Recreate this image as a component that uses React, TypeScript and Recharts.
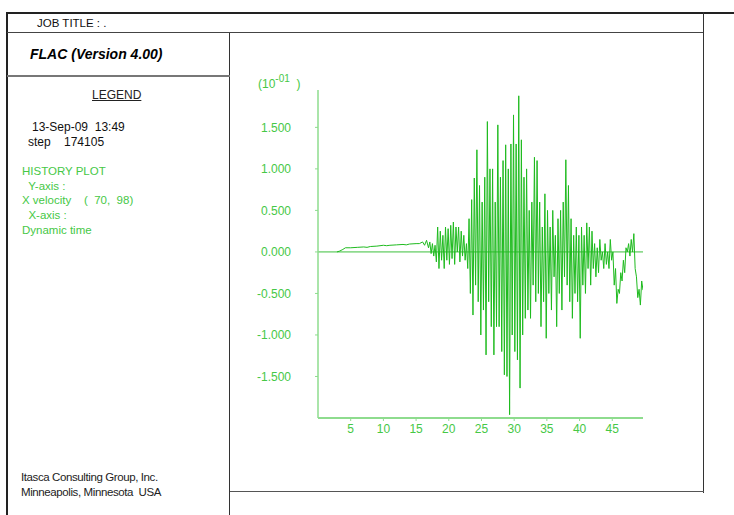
import React from 'react';
import { LineChart, Line, XAxis, YAxis, ReferenceLine } from 'recharts';

// Dynamic time (s) and X velocity (x 10^-01) history points
const historyTime: number[] = [
  2.9, 3.3, 3.8, 4.2, 5.0, 6.0, 7.0, 7.5, 8.0, 9.0, 10.0, 10.5, 11.0, 12.0, 13.0, 13.5, 14.0, 15.0, 15.5, 16.0,
  16.3, 16.6, 16.9, 17.1, 17.3, 17.5, 17.7, 17.9, 18.1, 18.3, 18.5, 18.7, 18.9, 19.1, 19.3, 19.5, 19.7, 19.9, 20.1, 20.3,
  20.5, 20.7, 20.9, 21.1, 21.3, 21.5, 21.7, 21.9, 22.1, 22.3, 22.5, 22.7, 22.9, 23.1, 23.3, 23.5, 23.7, 23.9, 24.1, 24.3,
  24.5, 24.7, 24.9, 25.1, 25.3, 25.5, 25.7, 25.9, 26.1, 26.3, 26.5, 26.7, 26.9, 27.1, 27.3, 27.5, 27.7, 27.9, 28.1, 28.3,
  28.5, 28.7, 28.9, 29.1, 29.3, 29.5, 29.7, 29.9, 30.1, 30.3, 30.5, 30.7, 30.9, 31.1, 31.3, 31.5, 31.7, 31.9, 32.1, 32.3,
  32.5, 32.7, 32.9, 33.1, 33.3, 33.5, 33.7, 33.9, 34.1, 34.3, 34.5, 34.7, 34.9, 35.1, 35.3, 35.5, 35.7, 35.9, 36.1, 36.3,
  36.5, 36.7, 36.9, 37.1, 37.3, 37.5, 37.7, 37.9, 38.1, 38.3, 38.5, 38.7, 38.9, 39.1, 39.3, 39.5, 39.7, 39.9, 40.1, 40.3,
  40.5, 40.7, 40.9, 41.1, 41.3, 41.5, 41.7, 41.9, 42.1, 42.3, 42.5, 42.7, 42.9, 43.1, 43.3, 43.5, 43.7, 43.9, 44.1, 44.3,
  44.5, 44.7, 44.9, 45.1, 45.3, 45.5, 45.7, 45.9, 46.1, 46.3, 46.5, 46.7, 46.9, 47.1, 47.3, 47.5, 47.7, 47.9, 48.1, 48.3,
  48.5, 48.7, 48.9, 49.1, 49.3, 49.5, 49.7,
];

const xVelocity: number[] = [
  0.0, 0.01, 0.03, 0.05, 0.05, 0.055, 0.06, 0.055, 0.065, 0.07, 0.08, 0.075, 0.08, 0.085, 0.09, 0.085, 0.095, 0.1, 0.1, 0.12,
  0.08, 0.14, 0.05, 0.12, -0.02, 0.1, -0.05, 0.08, -0.12, 0.3, -0.2, 0.25, -0.1, 0.2, -0.2, 0.3, -0.1, 0.28, -0.15, 0.32,
  -0.08, 0.36, -0.15, 0.3, 0.0, 0.3, -0.12, 0.25, -0.05, 0.2, -0.1, 0.1, -0.2, 0.4, -0.5, 0.63, -0.76, 0.89, -0.4, 1.23,
  -0.6, 0.8, -1.0, 0.6, -0.7, 0.9, -1.24, 1.57, -0.6, 1.0, -0.9, 1.0, -1.24, 0.6, -0.9, 1.53, -0.9, 0.9, -1.2, 1.1,
  -1.48, 1.29, -1.5, 1.0, -1.96, 1.3, -1.0, 1.65, -1.2, 1.3, -1.3, 1.88, -1.64, 1.35, -1.0, 0.9, -0.8, 1.0, -0.7, 0.5,
  -0.8, 0.6, -0.4, 1.14, -0.6, 1.1, -0.5, 0.6, -0.9, 0.3, -0.6, 0.7, -1.04, 0.5, -0.5, 0.3, -0.7, 0.5, -0.3, 0.2,
  -0.9, 0.4, -0.5, 0.5, -0.7, 0.6, -0.3, 1.11, -0.4, 0.8, -0.6, 0.4, -0.8, 0.2, -0.5, 0.3, -0.6, 0.2, -1.04, 0.3,
  -0.4, 0.2, -0.5, 0.35, -0.2, 0.3, -0.4, 0.25, -0.2, 0.1, -0.3, 0.05, -0.25, 0.15, -0.1, 0.0, -0.2, 0.1, -0.15, 0.0,
  -0.2, 0.15, -0.1, 0.0, -0.4, -0.2, -0.62, -0.45, -0.5, -0.25, -0.35, -0.1, -0.25, 0.05, 0.0, 0.1, -0.05, 0.15, 0.0, 0.22,
  -0.2, -0.3, -0.55, -0.45, -0.64, -0.35, -0.46,
];

const xTicks: number[] = [5, 10, 15, 20, 25, 30, 35, 40, 45];
const yTicks: number[] = [-1.5, -1.0, -0.5, 0, 0.5, 1.0, 1.5];

const legendLines: string[] = ['HISTORY PLOT', '  Y-axis :', 'X velocity    (  70,  98)', '  X-axis :', 'Dynamic time'];

const data = historyTime.map((t, i) => ({ t, v: xVelocity[i] }));

const GREEN_TEXT = '#46c846';
const AXIS_GREEN = '#8edc8e';
const FONT = '"Liberation Sans", Arial, Helvetica, sans-serif';

const abs = (left: number, top: number, extra: React.CSSProperties = {}): React.CSSProperties => ({
  position: 'absolute',
  left,
  top,
  ...extra,
});

export default function App() {
  return (
    <div
      style={{
        position: 'absolute',
        left: 0,
        top: 0,
        width: 734,
        height: 515,
        background: '#fff',
        fontFamily: FONT,
        overflow: 'hidden',
      }}
    >
      {/* frame */}
      <div style={abs(7, 12, { width: 727, height: 2, background: '#222' })} />
      <div style={abs(6, 12, { width: 2, height: 503, background: '#222' })} />
      <div style={abs(7, 32, { width: 696, height: 1, background: '#444' })} />
      <div style={abs(703, 12, { width: 1, height: 481, background: '#333' })} />
      <div style={abs(229, 33, { width: 1, height: 482, background: '#333' })} />
      <div style={abs(7, 75, { width: 223, height: 2, background: '#777' })} />
      <div style={abs(230, 491, { width: 474, height: 1, background: '#555' })} />

      {/* left panel text */}
      <div style={abs(37, 15, { fontSize: 11.5, color: '#111', whiteSpace: 'pre', lineHeight: '16px' })}>JOB TITLE : .</div>
      <div
        style={abs(30, 45, {
          fontSize: 14,
          fontWeight: 'bold',
          fontStyle: 'italic',
          color: '#000',
          whiteSpace: 'pre',
          lineHeight: '18px',
        })}
      >
        FLAC (Version 4.00)
      </div>
      <div
        style={abs(92, 87, {
          fontSize: 12,
          color: '#222',
          textDecoration: 'underline',
          whiteSpace: 'pre',
          lineHeight: '16px',
        })}
      >
        LEGEND
      </div>
      <div style={abs(32, 119, { fontSize: 12, color: '#111', whiteSpace: 'pre', lineHeight: '16px' })}>13-Sep-09  13:49</div>
      <div style={abs(28, 134, { fontSize: 12, color: '#111', whiteSpace: 'pre', lineHeight: '16px' })}>step    174105</div>
      {legendLines.map((s, i) => (
        <div
          key={i}
          style={abs(22, 163 + i * 14.7, {
            fontSize: 11.5,
            color: GREEN_TEXT,
            whiteSpace: 'pre',
            lineHeight: '16px',
          })}
        >
          {s}
        </div>
      ))}
      <div style={abs(21, 469, { fontSize: 11.5, color: '#222', whiteSpace: 'pre', lineHeight: '16px', letterSpacing: -0.4 })}>
        Itasca Consulting Group, Inc.
      </div>
      <div style={abs(21, 484, { fontSize: 11.5, color: '#222', whiteSpace: 'pre', lineHeight: '16px', letterSpacing: -0.4 })}>
        Minneapolis, Minnesota  USA
      </div>

      {/* axis scale label */}
      <div style={abs(258, 76, { fontSize: 12, color: GREEN_TEXT, whiteSpace: 'pre', lineHeight: '16px' })}>
        (10<sup style={{ fontSize: 10, verticalAlign: 'top', position: 'relative', top: -5 }}>-01</sup>  )
      </div>

      {/* chart */}
      <div style={abs(230, 33)}>
        <LineChart width={473} height={459} data={data} margin={{ top: 57, right: 60, bottom: 44, left: 28 }}>
          <XAxis
            type="number"
            dataKey="t"
            domain={[0, 49.7]}
            ticks={xTicks}
            allowDataOverflow
            height={30}
            axisLine={{ stroke: AXIS_GREEN, strokeWidth: 2 }}
            tickLine={{ stroke: AXIS_GREEN }}
            tickSize={3}
            tickMargin={3}
            tick={{ fill: GREEN_TEXT, fontSize: 12, fontFamily: FONT }}
          />
          <YAxis
            type="number"
            domain={[-2, 1.95]}
            ticks={yTicks}
            allowDataOverflow
            width={60}
            axisLine={{ stroke: AXIS_GREEN, strokeWidth: 1.5 }}
            tickLine={{ stroke: AXIS_GREEN }}
            tickSize={3}
            tickMargin={24}
            tickFormatter={(v: number) => v.toFixed(3)}
            tick={{ fill: GREEN_TEXT, fontSize: 12, fontFamily: FONT }}
          />
          <ReferenceLine y={0} stroke="#3cbf3c" strokeWidth={1} ifOverflow="extendDomain" />
          <Line
            type="linear"
            dataKey="v"
            stroke="#1fbb1f"
            strokeWidth={1}
            dot={false}
            isAnimationActive={false}
          />
        </LineChart>
      </div>
    </div>
  );
}
